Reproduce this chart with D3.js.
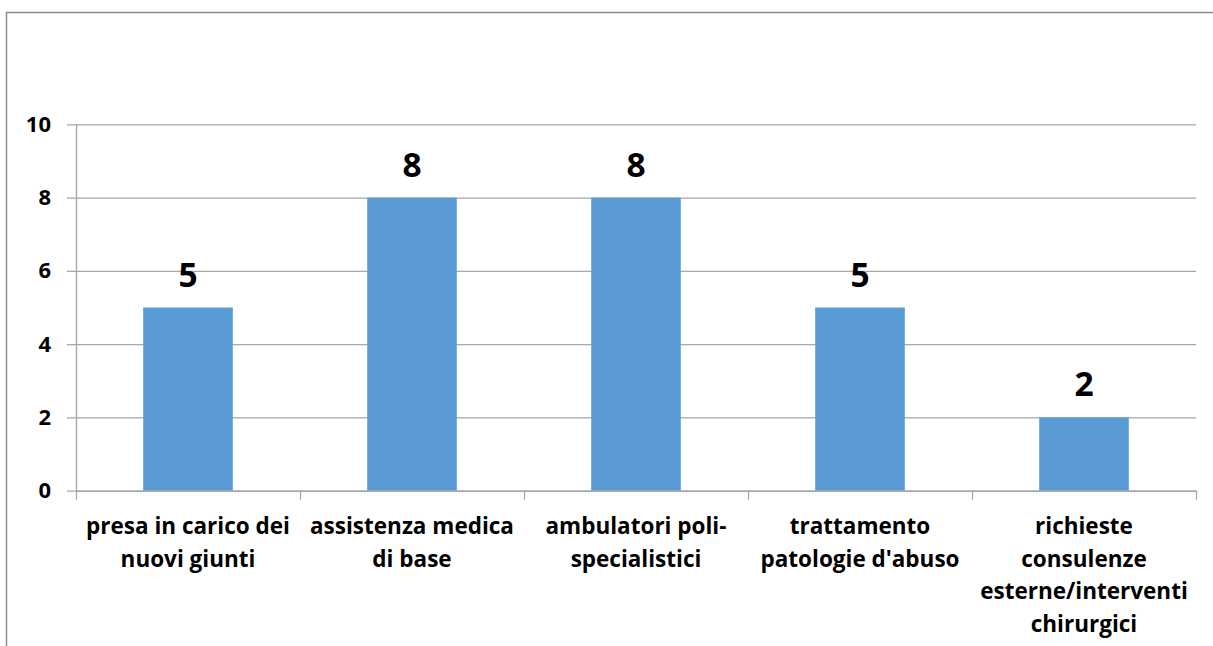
<!DOCTYPE html>
<html>
<head>
<meta charset="utf-8">
<script src="https://cdn.jsdelivr.net/npm/d3@7"></script>
<style>
  html, body { margin: 0; padding: 0; background: #fff; }
  svg { display: block; }
</style>
</head>
<body>
<script>
const categories = [
  "presa in carico dei\nnuovi giunti",
  "assistenza medica\ndi base",
  "ambulatori poli-\nspecialistici",
  "trattamento\npatologie d'abuso",
  "richieste\nconsulenze\nesterne/interventi\nchirurgici"
];
const values = [5, 8, 8, 5, 2];
const yTicks = [0, 2, 4, 6, 8, 10];

const W = 1213, H = 646;
const FONT = "'Open Sans', Lato, sans-serif";
const svg = d3.select("body").append("svg").attr("width", W).attr("height", H);

// outer chart frame
svg.append("path")
  .attr("d", `M6.5,${H + 5} V12.5 H${W + 5}`)
  .attr("fill", "none").attr("stroke", "#8c8c8c").attr("stroke-width", 1.5);

const m = { left: 76, right: 1196, top: 124.3, bottom: 490.7 };
const x = d3.scaleBand().domain(categories).range([m.left, m.right]).paddingInner(0.6).paddingOuter(0.3);
const y = d3.scaleLinear().domain([0, 10]).range([m.bottom, m.top]);

// gridlines + y ticks
const yAxis = d3.axisLeft(y).tickValues(yTicks).tickSize(m.right - m.left + 9).tickPadding(16).tickFormat(d3.format("d"));
const gy = svg.append("g").attr("transform", `translate(${m.right},0)`).call(yAxis);
gy.select(".domain").remove();
gy.selectAll(".tick line").attr("stroke", "#a6a6a6").attr("stroke-width", 1.3);
gy.selectAll(".tick text").attr("font-family", FONT).attr("font-weight", "bold")
  .attr("font-size", 22).attr("fill", "#000");

// y axis line
svg.append("line").attr("x1", m.left + 0.5).attr("x2", m.left + 0.5)
  .attr("y1", m.top).attr("y2", m.bottom).attr("stroke", "#a6a6a6").attr("stroke-width", 1.3);

// bars
svg.append("g").selectAll("rect").data(values).join("rect")
  .attr("x", (d, i) => x(categories[i]))
  .attr("width", x.bandwidth())
  .attr("y", d => y(d))
  .attr("height", d => y(0) - y(d))
  .attr("fill", "#5b9bd5");

// value labels
svg.append("g").selectAll("text").data(values).join("text")
  .attr("x", (d, i) => x(categories[i]) + x.bandwidth() / 2)
  .attr("y", d => y(d) - 21)
  .attr("text-anchor", "middle")
  .attr("font-family", FONT).attr("font-weight", "bold").attr("font-size", 33.5)
  .attr("fill", "#000")
  .text(d => d);

// x axis
const xb = d3.scaleBand().domain(categories).range([m.left, m.right]);
const gx = svg.append("g").attr("transform", `translate(0,${m.bottom})`)
  .call(d3.axisBottom(xb).tickSize(0).tickFormat(""));
gx.select(".domain").attr("stroke", "#a6a6a6").attr("stroke-width", 1.3);
gx.selectAll(".tick").remove();
const bounds = [m.left].concat(categories.map(c => xb(c) + xb.bandwidth()));
gx.selectAll("line.sep").data(bounds).join("line").attr("class", "sep")
  .attr("x1", d => d + 0.5).attr("x2", d => d + 0.5)
  .attr("y1", 0).attr("y2", 9).attr("stroke", "#a6a6a6").attr("stroke-width", 1.3);

// category labels
const cl = svg.append("g").selectAll("text").data(categories).join("text")
  .attr("text-anchor", "middle")
  .attr("font-family", FONT).attr("font-weight", "bold").attr("font-size", 22.5)
  .attr("fill", "#000");
cl.each(function (c) {
  const t = d3.select(this);
  c.split("\n").forEach((line, i) => {
    t.append("tspan").attr("x", xb(c) + xb.bandwidth() / 2)
      .attr("y", 534 + i * 32.5).text(line);
  });
});
</script>
</body>
</html>
